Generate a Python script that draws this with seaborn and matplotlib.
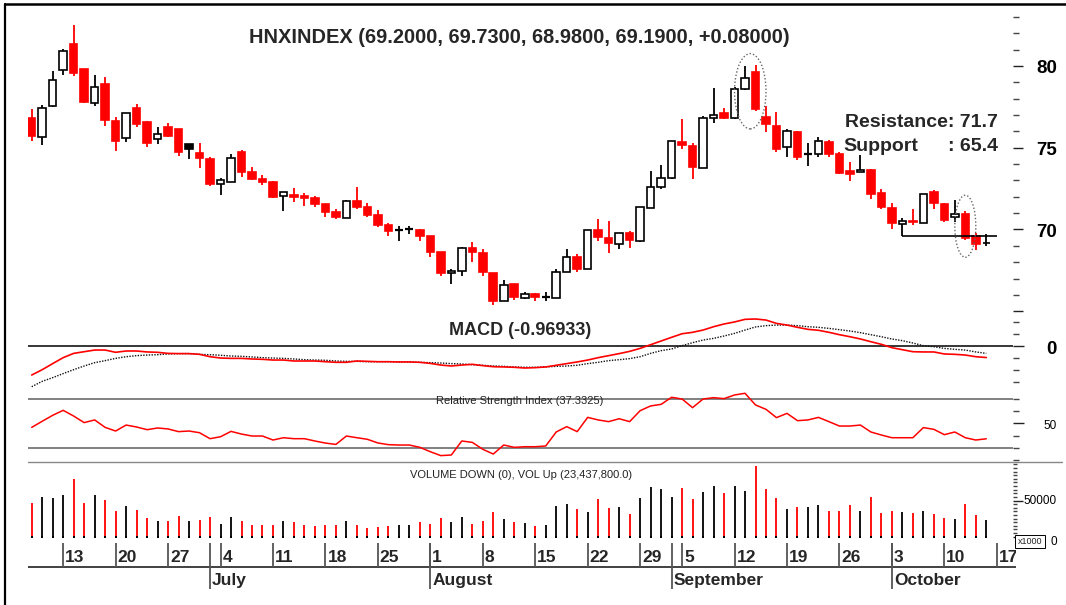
import numpy as np
import pandas as pd
import matplotlib
matplotlib.use("Agg")
import matplotlib.pyplot as plt
import matplotlib.transforms as mtransforms
from matplotlib.patches import Ellipse
from matplotlib.lines import Line2D
import seaborn as sns

sns.set_style("white")
plt.rcParams['font.family'] = ['Liberation Sans', 'DejaVu Sans']

# ---------------- data ----------------
dates = pd.bdate_range("2011-06-08", "2011-10-14").drop(pd.Timestamp("2011-09-02"))

open_ = [76.80, 75.68, 77.55, 79.76, 81.37, 79.84, 77.76, 78.92, 76.66, 75.62,
         77.41, 76.55, 75.56, 76.25, 76.13, 75.25, 74.66, 74.29, 72.76, 72.91,
         74.76, 73.50, 73.07, 72.93, 72.03, 72.11, 72.05, 71.91, 71.56, 71.05,
         70.72, 71.74, 71.36, 70.89, 70.28, 69.97, 70.01, 69.99, 69.60, 68.62,
         67.32, 67.46, 68.85, 68.58, 67.36, 65.64, 66.64, 65.83, 66.03, 65.89,
         65.83, 67.42, 68.33, 67.56, 69.97, 69.46, 69.13, 69.77, 69.29, 71.34,
         72.58, 73.17, 75.37, 75.13, 73.78, 76.80, 77.11, 76.80, 78.57, 79.65,
         76.90, 76.35, 75.07, 75.94, 74.62, 74.64, 75.37, 74.64, 73.55, 73.50,
         73.62, 72.25, 71.29, 70.32, 70.52, 70.42, 72.31, 71.54, 70.76, 70.92,
         69.60, 69.20]
high = [77.35, 77.61, 79.71, 81.02, 82.51, 79.84, 79.45, 79.31, 76.86, 77.15,
        77.66, 76.66, 76.25, 76.53, 76.13, 75.25, 75.27, 74.45, 73.17, 74.60,
        74.88, 73.80, 73.33, 72.99, 72.27, 72.52, 72.25, 72.05, 71.56, 71.23,
        71.78, 72.58, 71.60, 71.19, 70.42, 70.21, 70.23, 70.05, 69.60, 68.62,
        67.56, 68.91, 69.24, 68.78, 67.36, 66.89, 66.64, 66.19, 66.13, 66.17,
        67.56, 68.82, 68.50, 69.97, 70.62, 70.52, 69.81, 69.93, 71.40, 73.60,
        73.92, 75.41, 76.76, 75.27, 76.94, 78.67, 77.45, 78.70, 80.00, 80.06,
        77.55, 77.21, 76.13, 76.02, 75.27, 75.68, 75.47, 74.76, 74.11, 74.54,
        73.72, 72.50, 71.60, 70.68, 71.27, 72.19, 72.41, 71.60, 71.78, 71.15,
        69.80, 69.73]
low = [75.41, 75.17, 77.51, 79.45, 79.39, 77.72, 77.55, 76.33, 74.80, 75.37,
       76.25, 75.07, 75.23, 75.64, 74.50, 74.29, 73.78, 72.68, 72.11, 72.91,
       73.23, 73.00, 72.70, 71.95, 71.15, 71.70, 71.46, 71.40, 70.78, 70.62,
       70.72, 71.23, 70.78, 70.17, 69.62, 69.32, 69.70, 69.32, 68.34, 67.15,
       66.68, 67.15, 68.03, 67.15, 65.36, 65.64, 65.66, 65.72, 65.62, 65.62,
       65.83, 67.42, 67.40, 67.56, 69.29, 68.58, 68.79, 68.89, 69.25, 71.34,
       72.49, 73.07, 74.92, 73.09, 73.78, 76.53, 76.76, 76.74, 78.53, 77.25,
       75.98, 74.76, 74.45, 74.23, 73.90, 74.41, 74.45, 73.37, 72.96, 73.50,
       71.85, 71.26, 70.03, 69.60, 70.25, 70.42, 71.27, 70.45, 70.45, 69.35,
       68.74, 68.98]
close = [75.72, 77.41, 79.14, 80.94, 79.59, 77.78, 78.74, 76.70, 75.41, 77.10,
         76.45, 75.27, 75.82, 75.72, 74.74, 74.92, 74.39, 72.76, 73.00, 74.35,
         73.52, 73.09, 72.91, 71.99, 72.27, 71.99, 71.93, 71.56, 71.07, 70.76,
         71.72, 71.40, 70.89, 70.28, 69.93, 69.97, 70.01, 69.62, 68.64, 67.32,
         67.46, 68.85, 68.62, 67.40, 65.63, 66.60, 65.87, 66.03, 65.87, 65.89,
         67.42, 68.33, 67.60, 69.97, 69.52, 69.19, 69.77, 69.35, 71.36, 72.58,
         73.17, 75.41, 75.17, 73.84, 76.80, 77.00, 76.84, 78.57, 79.29, 77.35,
         76.45, 74.94, 76.04, 74.45, 74.62, 75.43, 74.62, 73.48, 73.40, 73.62,
         72.15, 71.38, 70.42, 70.52, 70.45, 72.15, 71.64, 70.56, 70.96, 69.48,
         69.11, 69.19]
volume = [46400, 54500, 54000, 57200, 80200, 46400, 57200, 50500, 35600, 42300,
          37000, 26100, 22000, 22000, 28800, 22000, 23400, 27500, 18000, 27500,
          22000, 16700, 16700, 16700, 21200, 19800, 16700, 14400, 16700, 16700,
          21200, 16700, 11800, 13200, 14600, 16000, 16000, 20300, 17400, 25400,
          20300, 26900, 17400, 21700, 33900, 24000, 20300, 18400, 14600, 15600,
          43000, 45800, 38700, 34000, 51500, 39700, 41100, 31200, 53900, 68000,
          65200, 55300, 66600, 52400, 62400, 70400, 60500, 69500, 63300, 97300,
          66200, 53900, 38300, 41100, 41100, 43900, 35000, 35000, 43900, 35400,
          55300, 32600, 35400, 34000, 32600, 35400, 31200, 25500, 24100, 45400,
          29800, 23437.8]
macd = [-2.44, -1.99, -1.48, -0.98, -0.62, -0.48, -0.34, -0.34, -0.53, -0.42,
        -0.42, -0.50, -0.53, -0.62, -0.64, -0.64, -0.70, -0.90, -1.01, -1.04,
        -1.04, -1.09, -1.12, -1.18, -1.18, -1.26, -1.26, -1.26, -1.32, -1.37,
        -1.37, -1.26, -1.29, -1.32, -1.32, -1.34, -1.34, -1.37, -1.46, -1.60,
        -1.68, -1.60, -1.54, -1.65, -1.74, -1.76, -1.79, -1.85, -1.82, -1.76,
        -1.62, -1.48, -1.34, -1.18, -0.98, -0.81, -0.64, -0.45, -0.20, 0.11,
        0.42, 0.73, 1.03, 1.15, 1.34, 1.62, 1.85, 2.02, 2.24, 2.27,
        2.18, 1.90, 1.76, 1.57, 1.40, 1.32, 1.15, 0.95, 0.78, 0.59,
        0.36, 0.14, -0.14, -0.31, -0.48, -0.50, -0.50, -0.67, -0.70, -0.76,
        -0.90, -0.96933]
signal = [-3.42, -2.97, -2.66, -2.32, -1.99, -1.68, -1.40, -1.23, -1.04, -0.90,
          -0.81, -0.76, -0.73, -0.67, -0.64, -0.64, -0.70, -0.73, -0.78, -0.84,
          -0.87, -0.92, -0.98, -1.01, -1.04, -1.09, -1.15, -1.18, -1.20, -1.26,
          -1.29, -1.29, -1.32, -1.32, -1.32, -1.34, -1.34, -1.37, -1.40, -1.43,
          -1.48, -1.51, -1.57, -1.62, -1.68, -1.71, -1.76, -1.79, -1.79, -1.76,
          -1.71, -1.68, -1.62, -1.48, -1.37, -1.23, -1.15, -1.06, -0.90, -0.62,
          -0.39, -0.25, 0.03, 0.28, 0.50, 0.64, 0.84, 1.06, 1.34, 1.60,
          1.71, 1.76, 1.76, 1.71, 1.62, 1.57, 1.48, 1.37, 1.26, 1.12,
          0.95, 0.78, 0.59, 0.45, 0.25, 0.03, -0.06, -0.20, -0.28, -0.34,
          -0.50, -0.62]
rsi = [46.7, 51.7, 56.6, 60.7, 56.0, 50.6, 52.8, 46.7, 43.7, 48.6,
       47.0, 44.8, 46.2, 45.4, 43.2, 43.7, 42.3, 37.4, 39.0, 43.4,
       41.2, 39.6, 39.6, 36.3, 38.2, 37.4, 37.4, 35.5, 33.8, 32.7,
       39.6, 38.2, 36.9, 33.9, 32.5, 32.2, 32.2, 30.3, 26.7, 23.5,
       24.0, 35.5, 34.4, 28.7, 24.8, 32.2, 30.3, 30.8, 30.8, 31.4,
       42.9, 47.3, 43.2, 54.9, 52.8, 51.4, 53.8, 51.4, 60.4, 64.3,
       65.6, 71.4, 70.0, 62.9, 70.0, 71.1, 70.3, 73.3, 74.7, 65.1,
       61.5, 54.7, 58.2, 52.2, 52.8, 54.9, 51.4, 47.8, 47.8, 48.6,
       42.9, 40.4, 38.2, 38.2, 38.2, 46.5, 45.1, 40.7, 42.9, 38.2,
       36.3, 37.3325]

resistance_level = 71.7
support_level = 65.4
support_line = 69.60          # drawn support line level
price_ticks = [70, 75, 80]

# ---------------- layout helpers ----------------
W, H = 1066, 605
fig = plt.figure(figsize=(W / 100, H / 100), dpi=100)
X0PX, STEP = 31.7, 10.49      # pixel of first candle, pixels per session
LEFT, RIGHT = 28.3, 1013.0


def px2i(px):
    return (px - X0PX) / STEP


def add_ax(top, bottom, left=LEFT, right=RIGHT):
    ax = fig.add_axes([left / W, 1 - bottom / H, (right - left) / W, (bottom - top) / H])
    ax.set_xlim(px2i(left), px2i(right))
    ax.set_facecolor("none")
    for s in ax.spines.values():
        s.set_visible(False)
    ax.set_xticks([])
    return ax


def right_ticks(ax, major, minor, maj_len=6, min_len=3):
    ax.yaxis.tick_right()
    ax.set_yticks(major)
    ax.set_yticks(minor, minor=True)
    ax.tick_params(axis="y", which="major", direction="out", length=maj_len, width=1.0,
                   color="#222", labelright=False, labelleft=False, left=False)
    ax.tick_params(axis="y", which="minor", direction="out", length=min_len, width=1.0,
                   color="#444", left=False)


def right_label(ax, val, text, size, weight="bold", dy=3.0):
    tr = mtransforms.blended_transform_factory(fig.transFigure, ax.transData)
    tr = tr + mtransforms.ScaledTranslation(0, -dy / 100, fig.dpi_scale_trans)
    ax.text(1057 / W, val, text, transform=tr, ha="right", va="center",
            fontsize=size, fontweight=weight, color="black", clip_on=False)


def figtext(xpx, ypx, s, **kw):
    fig.text(xpx / W, 1 - ypx / H, s, **kw)


n = len(close)
x = np.arange(n)
o = np.array(open_); c = np.array(close); hi = np.array(high); lo = np.array(low)
prev = np.r_[o[0], c[:-1]]
col = np.where(c < prev, "#ff0000", "#000000")
up = c > o
doji = np.isclose(c, o)

# ---------------- price panel ----------------
axp = add_ax(5, 312)
P80, PPX = 66.0, 16.35
axp.set_ylim(80 - (312 - P80) / PPX, 80 + (P80 - 5) / PPX)
axp.vlines(x, lo, hi, colors=col, lw=1.3, zorder=2)
body_bottom = np.minimum(o, c)
body_h = np.abs(c - o)
face = np.where(up, "white", col)
m = ~doji
axp.bar(x[m], body_h[m], bottom=body_bottom[m], width=0.72, color=face[m],
        edgecolor=col[m], linewidth=1.2, zorder=3)
axp.hlines(c[doji], x[doji] - 0.38, x[doji] + 0.38, colors=col[doji], lw=1.6, zorder=3)
right_ticks(axp, [65, 70, 75, 80], np.arange(65, 84, 1), maj_len=7, min_len=4)
for v in price_ticks:
    right_label(axp, v, str(v), 13.5)

# support line
i_sup = int(np.argmin(np.abs(lo[80:] - support_line))) + 80
axp.hlines(support_line, i_sup, n + 0.05, colors="black", lw=1.2, zorder=4)

# dotted ellipses
for (a, b, pad_lo, pad_hi) in [(68, 69, 1.1, 0.7), (89, 89, 1.05, 0.95)]:
    y0 = lo[a:b + 1].min() - pad_lo
    y1 = hi[a:b + 1].max() + pad_hi
    wdt = (b - a) + 2.0
    e = Ellipse(((a + b) / 2, (y0 + y1) / 2), wdt, y1 - y0, fill=False,
                ls=(0, (1, 1.5)), ec="#666", lw=1.0, zorder=5)
    axp.add_patch(e)

figtext(519.5, 42.7, "HNXINDEX (69.2000, 69.7300, 68.9800, 69.1900, +0.08000)",
        ha="center", va="baseline", fontsize=14.4, fontweight="bold")
figtext(998, 126.7, f"Resistance: {resistance_level}", ha="right", va="baseline",
        fontsize=14, fontweight="bold")
figtext(843, 151, "Support", ha="left", va="baseline", fontsize=14, fontweight="bold")
figtext(998, 151, f": {support_level}", ha="right", va="baseline",
        fontsize=14, fontweight="bold")

# ---------------- MACD panel ----------------
axm = add_ax(312, 393)
M0, MPX = 346.0, 11.9
axm.set_ylim(-(393 - M0) / MPX, (M0 - 312) / MPX)
axm.axhline(0, color="black", lw=1.1, zorder=1)
sns.lineplot(x=x, y=macd, ax=axm, color="#ff0000", lw=1.2, zorder=3, clip_on=False)
sns.lineplot(x=x, y=signal, ax=axm, color="#111", lw=1.0, ls=(0, (1, 1)), zorder=2,
             clip_on=False)
right_ticks(axm, [0], [-3, -2, -1, 1, 2], maj_len=8, min_len=4)
right_label(axm, 0, "0", 13.5)
figtext(520.5, 335, "MACD (-0.96933)", ha="center", va="baseline", fontsize=13,
        fontweight="bold")

# ---------------- RSI panel ----------------
axr = add_ax(393, 462)
R70, RPX = 399.0, 1.2175
axr.set_ylim(70 - (462 - R70) / RPX, 70 + (R70 - 393) / RPX)
axr.axhline(70, color="#808080", lw=1.4, zorder=1)
axr.axhline(30, color="#808080", lw=1.4, zorder=1)
sns.lineplot(x=x, y=rsi, ax=axr, color="#ff0000", lw=1.1, zorder=3, clip_on=False)
right_ticks(axr, [50], [20, 30, 40, 60, 70], maj_len=8, min_len=4)
right_label(axr, 50, "50", 8.5, weight="normal", dy=2.5)
figtext(520, 404, "Relative Strength Index (37.3325)", ha="center", va="baseline",
        fontsize=8, color="#222")

fig.add_artist(Line2D([28.3 / W, 1062 / W], [1 - 462.3 / H, 1 - 462.3 / H],
                      color="#888", lw=1.0))

# ---------------- volume panel ----------------
axv = add_ax(462, 543)
V0, VPX = 536.7, 0.724 / 1000
axv.set_ylim(-(543 - V0) / VPX, (V0 - 462) / VPX)
axv.vlines(x, 0, volume, colors=col, lw=1.3, zorder=2)
axv.scatter(x, np.zeros(n), s=1.5, c="black", marker="s", zorder=3, linewidths=0)
right_ticks(axv, [0, 50000], np.arange(5000, 105000, 5000), maj_len=7, min_len=3)
right_label(axv, 50000, "50000", 8.5, weight="normal", dy=0)
right_label(axv, 0, "0", 8.5, weight="normal", dy=5)
figtext(521, 477.5, "VOLUME DOWN (0), VOL Up (23,437,800.0)", ha="center",
        va="baseline", fontsize=8, color="#222")
figtext(1030, 541.3, "x1000", ha="center", va="center", fontsize=6.5,
        bbox=dict(boxstyle="square,pad=0.25", fc="white", ec="black", lw=0.7))

# ---------------- date axis ----------------
axd = add_ax(543, 605, right=1015.5)
axd.set_ylim(605, 543)
axd.set_yticks([])
ext = list(dates) + [pd.Timestamp("2011-10-17")]
ext_idx = np.arange(len(ext))
mondays = [(i, d) for i, d in zip(ext_idx, ext) if d.weekday() == 0]
firsts = [(i, d) for i, d in zip(ext_idx[1:], ext[1:]) if d.month != ext[i - 1].month]
axd.hlines(567, px2i(LEFT), px2i(1015.5), colors="#333", lw=1.3)
axd.vlines([i for i, _ in mondays], 543, 567, colors="#555", lw=1.3)
axd.vlines([i for i, _ in firsts], 543, 589, colors="#555", lw=1.3)
for i, d in mondays:
    axd.text(i + 2 / STEP, 562.3, str(d.day), ha="left", va="baseline",
             fontsize=12.5, fontweight="bold", clip_on=True)
for i, d in firsts:
    axd.text(i + 2 / STEP, 585, d.strftime("%B"), ha="left", va="baseline",
             fontsize=12.5, fontweight="bold", clip_on=True)

# ---------------- frame ----------------
fig.add_artist(Line2D([5 / W, 1], [1 - 4.2 / H, 1 - 4.2 / H], color="black", lw=1.8))
fig.add_artist(Line2D([5.3 / W, 5.3 / W], [0, 1 - 4.2 / H], color="black", lw=1.6))

fig.savefig("out.png", dpi=100)
